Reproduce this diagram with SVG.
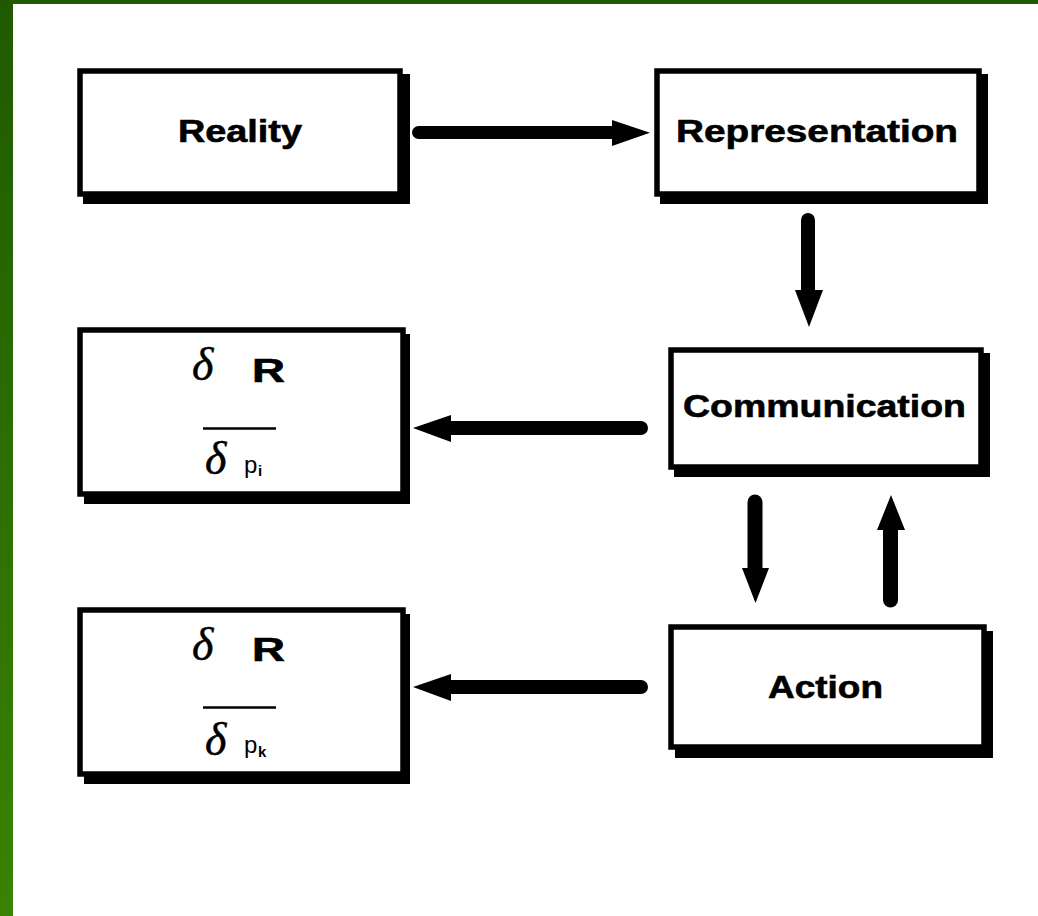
<svg xmlns="http://www.w3.org/2000/svg" width="1038" height="916" viewBox="0 0 1038 916">
<style>
.box{fill:#fff;stroke:#000;stroke-width:5.5}
.shadow{fill:#000}
.lbl{font-family:"Liberation Sans",Arial,sans-serif;font-weight:bold;font-size:31px;fill:#000;stroke:#000;stroke-width:0.6}
.big{font-size:33px}
.delta{font-family:"Liberation Serif","Times New Roman",serif;font-style:italic;font-size:46px;fill:#000;stroke:#000;stroke-width:0.5}
.p{font-family:"Liberation Sans",Arial,sans-serif;font-size:24px;fill:#000}
.sub{font-family:"Liberation Sans",Arial,sans-serif;font-weight:bold;font-size:15px;fill:#000}
.shaft{stroke:#000;stroke-linecap:round;fill:none}
.head{fill:#000}
</style>
<defs>
<linearGradient id="green" x1="0" y1="0" x2="0" y2="1">
<stop offset="0" stop-color="#1f5a00"/>
<stop offset="1" stop-color="#3a8200"/>
</linearGradient>
</defs>
<rect x="0" y="0" width="1038" height="916" fill="#fff"/>
<rect x="0" y="0" width="13" height="916" fill="url(#green)"/>
<rect x="0" y="0" width="1038" height="4" fill="#1f5a00"/>

<g id="reality">
<rect class="shadow" x="83" y="74" width="327" height="130"/>
<rect class="box" x="80" y="71" width="320" height="123"/>
<text class="lbl" x="178" y="142" textLength="124" lengthAdjust="spacingAndGlyphs">Reality</text>
</g>

<g id="representation">
<rect class="shadow" x="660" y="74" width="328" height="130"/>
<rect class="box" x="657" y="71" width="322" height="123"/>
<text class="lbl" x="676" y="142" textLength="282" lengthAdjust="spacingAndGlyphs">Representation</text>
</g>

<g id="communication">
<rect class="shadow" x="674" y="353" width="316" height="124"/>
<rect class="box" x="671" y="350" width="310" height="117"/>
<text class="lbl" x="683" y="417" textLength="283" lengthAdjust="spacingAndGlyphs">Communication</text>
</g>

<g id="action">
<rect class="shadow" x="675" y="631" width="318" height="127"/>
<rect class="box" x="671" y="627" width="313" height="120"/>
<text class="lbl" x="768" y="698" textLength="115" lengthAdjust="spacingAndGlyphs">Action</text>
</g>

<g id="dR-dpi">
<rect class="shadow" x="84" y="334" width="326" height="170"/>
<rect class="box" x="80" y="330" width="323" height="164"/>
<text class="delta" x="192" y="380">δ</text>
<text class="lbl big" x="252" y="382" textLength="33" lengthAdjust="spacingAndGlyphs">R</text>
<line x1="203" y1="428.5" x2="276" y2="428.5" stroke="#000" stroke-width="2.5"/>
<text class="delta" x="205" y="474">δ</text>
<text class="p" x="244" y="473">p</text>
<text class="sub" x="258" y="476">i</text>
</g>

<g id="dR-dpk">
<rect class="shadow" x="84" y="614" width="326" height="170"/>
<rect class="box" x="80" y="610" width="323" height="164"/>
<text class="delta" x="192" y="660">δ</text>
<text class="lbl big" x="252" y="661" textLength="33" lengthAdjust="spacingAndGlyphs">R</text>
<line x1="203" y1="707.5" x2="276" y2="707.5" stroke="#000" stroke-width="2.5"/>
<text class="delta" x="205" y="755">δ</text>
<text class="p" x="244" y="753">p</text>
<text class="sub" x="258" y="757">k</text>
</g>

<g id="connectors">
<line class="shaft" x1="418.5" y1="132.5" x2="614" y2="132.5" stroke-width="13"/>
<polygon class="head" points="612,120 650,132.7 612,146"/>

<line class="shaft" x1="808" y1="220" x2="808" y2="292" stroke-width="14"/>
<polygon class="head" points="795,290 823,290 809,327"/>

<line class="shaft" x1="641" y1="428" x2="449" y2="428" stroke-width="14"/>
<polygon class="head" points="451,415 451,442 413,428"/>

<line class="shaft" x1="641" y1="687" x2="449" y2="687" stroke-width="14"/>
<polygon class="head" points="451,674 451,701 413,687"/>

<line class="shaft" x1="755" y1="502" x2="755" y2="570" stroke-width="15"/>
<polygon class="head" points="742,568 769,568 755.5,603"/>

<line class="shaft" x1="890.5" y1="600" x2="890.5" y2="528" stroke-width="15"/>
<polygon class="head" points="877,530 905,530 891,495"/>
</g>
</svg>
